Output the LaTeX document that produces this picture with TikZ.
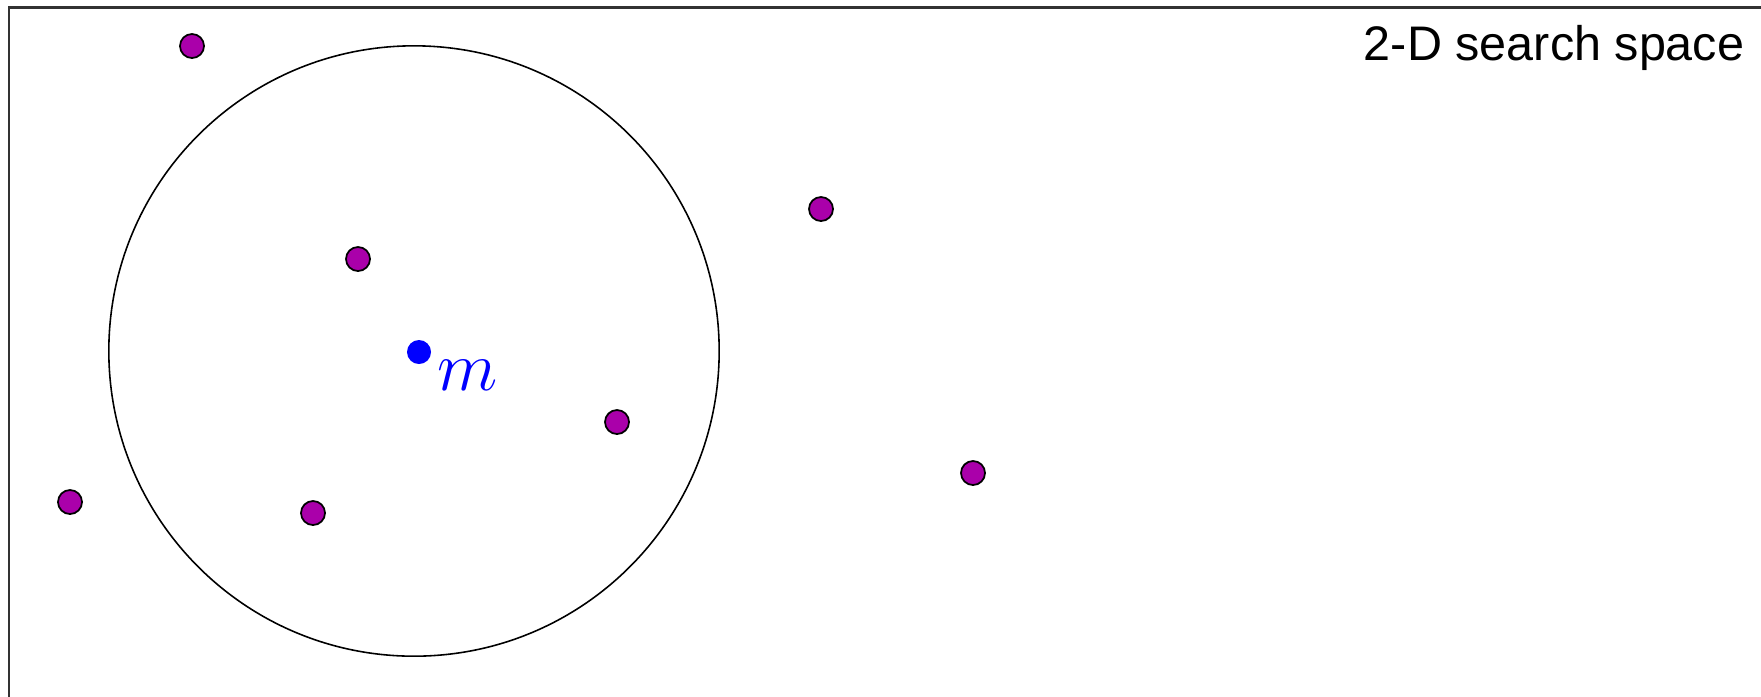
\RequirePackage{fix-cm}
\documentclass[tikz,border=0pt]{standalone}
\usepackage{fontspec}
\newfontfamily\labelfont{Liberation Sans}
\definecolor{ptpurple}{RGB}{170,0,170}
\definecolor{framegray}{RGB}{50,50,50}
\usetikzlibrary{positioning}

\begin{document}
\begin{tikzpicture}[x=0.01cm,y=-0.01cm,
  pt/.style={circle, draw=black, line width=0.5pt, fill=ptpurple, inner sep=0pt, minimum size=0.24cm},
  ctr/.style={circle, fill=blue, inner sep=0pt, minimum size=0.24cm}]
\useasboundingbox (0,0) rectangle (1761,696);
\draw[framegray, line width=0.85pt] (9,700) -- (9,7) -- (1765,7);
\node[ctr] (m) at (419,352) {};
\draw[line width=0.45pt] (414,351) circle [radius=3.05cm];
\node[anchor=base west, inner sep=0pt, text=blue, font=\fontsize{20}{24}\selectfont] (mlab) at (437,390) {$m$};
\foreach \x/\y [count=\i] in {192/46, 358/259, 821/209, 617/422, 70/502, 313/513, 973/473}
  \node[pt] (p\i) at (\x,\y) {};
\node[anchor=base east, inner sep=0pt, font=\labelfont\fontsize{13.8}{16}\selectfont] (title) at (1745,60) {2-D search space};
\end{tikzpicture}
\end{document}
